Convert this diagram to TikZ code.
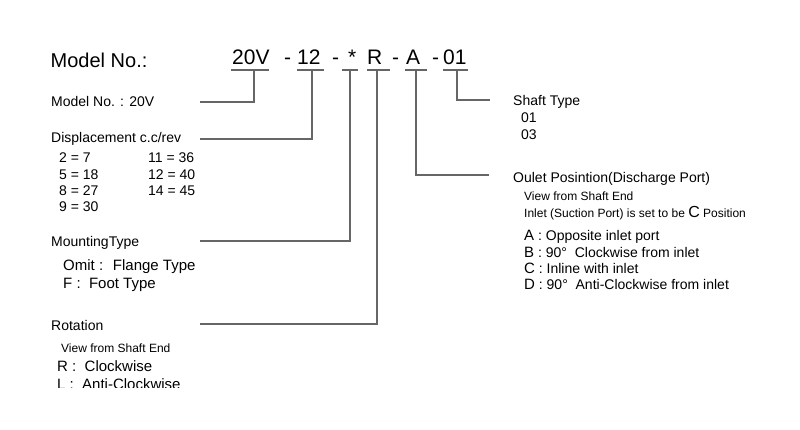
\documentclass[tikz,border=0pt]{standalone}
\usepackage{fontspec}
\setmainfont{Liberation Sans}
\usetikzlibrary{positioning}

\newcommand{\fs}[1]{\fontsize{#1}{#1}\selectfont}

\tikzset{
  txt/.style={anchor=base west, inner sep=0pt, font=\fs{14}},
  small/.style={txt, font=\fs{12}},
  mid/.style={txt, font=\fs{15}},
  big/.style={txt, font=\fs{20}},
  code/.style={txt, font=\fs{21}},
  lead/.style={draw=black!60, line width=1.1pt},
}

\begin{document}
\begin{tikzpicture}[x=1pt, y=-1pt]
\useasboundingbox (0,0) rectangle (800,430);

% header
\node[big] (title) at (50.5,68) {Model No.:};
\node[code] (c20v) at (232,65) {20V};
\node[code] (d1) at (284,65) {-};
\node[code] (c12) at (297,65) {12};
\node[code] (d2) at (332,65) {-};
\node[code] (cstar) at (348,65) {*};
\node[code] (cR) at (367,65) {R};
\node[code] (d3) at (392,65) {-};
\node[code] (cA) at (406,65) {A};
\node[code] (d4) at (432,65) {-};
\node[code] (c01) at (443,65) {01};

% underlines
\draw[lead] (231,70) -- (269,70);
\draw[lead] (297,70) -- (324,70);
\draw[lead] (342,70) -- (358,70);
\draw[lead] (367,70) -- (390,70);
\draw[lead] (405,70) -- (427,70);
\draw[lead] (443,70) -- (468,70);

% left column
\node[txt] (model) at (51,107) {Model No. : 20V};
\node[txt] (disp) at (51,143) {Displacement c.c/rev};
\node[txt] (v1) at (59,163) {2 = 7};
\node[txt] (v2) at (59,180) {5 = 18};
\node[txt] (v3) at (59,196) {8 = 27};
\node[txt] (v4) at (59,212) {9 = 30};
\node[txt] (v5) at (148,163) {11 = 36};
\node[txt] (v6) at (148,180) {12 = 40};
\node[txt] (v7) at (148,196) {14 = 45};

\node[txt] (mount) at (51,247) {MountingType};
\node[mid] (omit) at (63,270) {Omit :~ Flange Type};
\node[mid] (foot) at (63,288) {F :~ Foot Type};

\node[txt] (rot) at (51,330) {Rotation};
\node[small] (rview) at (61,352) {View from Shaft End};
\node[mid] (rcw) at (57,371) {R :~ Clockwise};
\begin{scope}
\clip (0,0) rectangle (800,387);
\node[mid] (rccw) at (57,389) {L :~ Anti-Clockwise};
\end{scope}

% right column
\node[txt] (shaft) at (513,106) {Shaft Type};
\node[txt] (s01) at (521,123) {01};
\node[txt] (s03) at (521,140) {03};

\node[txt] (outlet) at (513,183) {Oulet Posintion(Discharge Port)};
\node[small] (oview) at (524,201) {View from Shaft End};
\node[small] (oinlet) at (524,218) {Inlet (Suction Port) is set to be {\fs{16}C} Position};
\node[txt] (pA) at (524,241) {{\fs{15}A} : Opposite inlet port};
\node[txt] (pB) at (524,258) {{\fs{15}B} : 90°~ Clockwise from inlet};
\node[txt] (pC) at (524,273) {{\fs{15}C} : Inline with inlet};
\node[txt] (pD) at (524,289) {{\fs{15}D} : 90°~ Anti-Clockwise from inlet};

% leader lines
\coordinate (k20v) at (254,70);  \coordinate (e20v) at (200,102);
\coordinate (k12) at (312,70);   \coordinate (e12) at (200,139);
\coordinate (kstar) at (350,70); \coordinate (estar) at (200,241);
\coordinate (kR) at (377,70);    \coordinate (eR) at (200,324);
\coordinate (kA) at (416,70);    \coordinate (eA) at (489,175);
\coordinate (k01) at (457,70);   \coordinate (e01) at (490,100);

\draw[lead] (k20v) |- (e20v);
\draw[lead] (k12) |- (e12);
\draw[lead] (kstar) |- (estar);
\draw[lead] (kR) |- (eR);
\draw[lead] (kA) |- (eA);
\draw[lead] (k01) |- (e01);
\end{tikzpicture}
\end{document}
